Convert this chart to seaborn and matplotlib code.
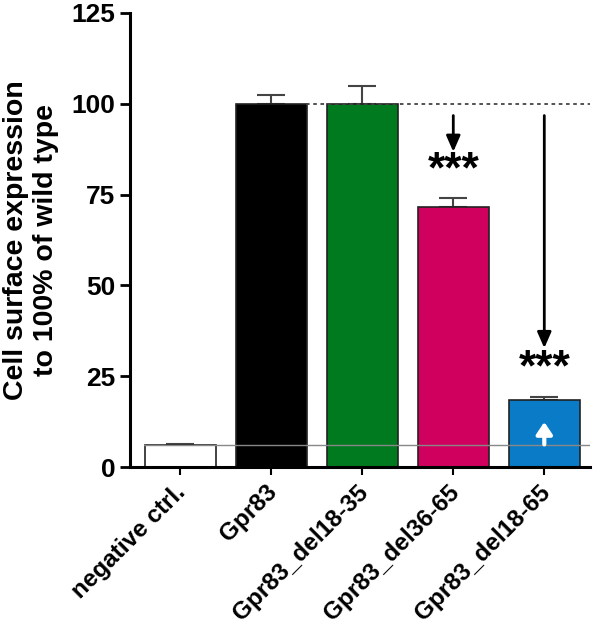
import matplotlib
matplotlib.use("Agg")
import matplotlib.pyplot as plt
import matplotlib.transforms as mtransforms
import seaborn as sns
import pandas as pd

categories = ["negative ctrl.", "Gpr83", "Gpr83_del18-35", "Gpr83_del36-65", "Gpr83_del18-65"]
values = [6.2, 100.0, 100.0, 71.5, 18.5]
errors = [0.3, 2.5, 5.0, 2.5, 0.8]
colors = ["#ffffff", "#000000", "#007a1e", "#d0005f", "#0a7bc6"]
stars = ["", "", "", "***", "***"]

sns.set_theme(style="ticks")
plt.rcParams["font.family"] = ["Liberation Sans", "DejaVu Sans"]
plt.rcParams["font.weight"] = "bold"
plt.rcParams["text.color"] = "black"
plt.rcParams["axes.labelcolor"] = "black"
plt.rcParams["xtick.color"] = "black"
plt.rcParams["ytick.color"] = "black"
plt.rcParams["axes.edgecolor"] = "black"

df = pd.DataFrame({"group": categories, "value": values})

fig = plt.figure(figsize=(6, 6.4), dpi=100)
ax = fig.add_axes([0.217, 0.27, 0.766, 0.71])

sns.barplot(data=df, x="group", y="value", hue="group", palette=colors,
            saturation=1, width=0.78, edgecolor="#222222", linewidth=1.2,
            legend=False, errorbar=None, ax=ax, zorder=2)
for i, (v, e) in enumerate(zip(values, errors)):
    ax.errorbar(i, v, yerr=[[0], [e]], color="#444444", capsize=10,
                capthick=1.5, elinewidth=1.5, zorder=1)

# reference lines
ax.axhline(values[0], xmin=0.03, xmax=1.0, color="#888888", lw=1, zorder=3)
ax.plot([1.38, 4.5], [100, 100], ls=(0, (2, 2)), color="#444444", lw=1.3, zorder=3)

# arrows and significance
ax.annotate("", xy=(3, 86), xytext=(3, 97.5),
            arrowprops=dict(arrowstyle="-|>,head_width=0.35,head_length=0.8",
                            color="black", lw=2))
ax.annotate("", xy=(4, 32), xytext=(4, 97.5),
            arrowprops=dict(arrowstyle="-|>,head_width=0.35,head_length=0.8",
                            color="black", lw=2))
ax.annotate("", xy=(4, 13.2), xytext=(4, 5.5),
            arrowprops=dict(arrowstyle="-|>,head_width=0.4,head_length=0.6",
                            color="white", lw=3), zorder=4)
for i, s in enumerate(stars):
    if s:
        ax.text(i, values[i] + errors[i] + 2.0, s, ha="center", va="bottom",
                fontsize=32, fontweight="bold")

ax.set_ylim(0, 125)
ax.set_xlim(-0.55, 4.5)
ax.set_yticks([0, 25, 50, 75, 100, 125])
ax.set_xlabel("")
ax.set_ylabel("Cell surface expression\nto 100% of wild type", fontsize=20.5,
              fontweight="bold", labelpad=9)
ax.tick_params(axis="y", labelsize=19, width=2, length=7)
ax.tick_params(axis="x", labelsize=17.5, width=1.5, length=6)
shift = mtransforms.ScaledTranslation(-6 / 100, 0, fig.dpi_scale_trans)
for lab in ax.get_xticklabels():
    lab.set_rotation(45)
    lab.set_ha("right")
    lab.set_rotation_mode("anchor")
    lab.set_fontweight("bold")
    lab.set_transform(lab.get_transform() + shift)
plt.setp(ax.get_yticklabels(), fontweight="bold")
for sp in ["left", "bottom"]:
    ax.spines[sp].set_linewidth(2.2)
sns.despine(ax=ax)

fig.savefig("out.png", dpi=100)
